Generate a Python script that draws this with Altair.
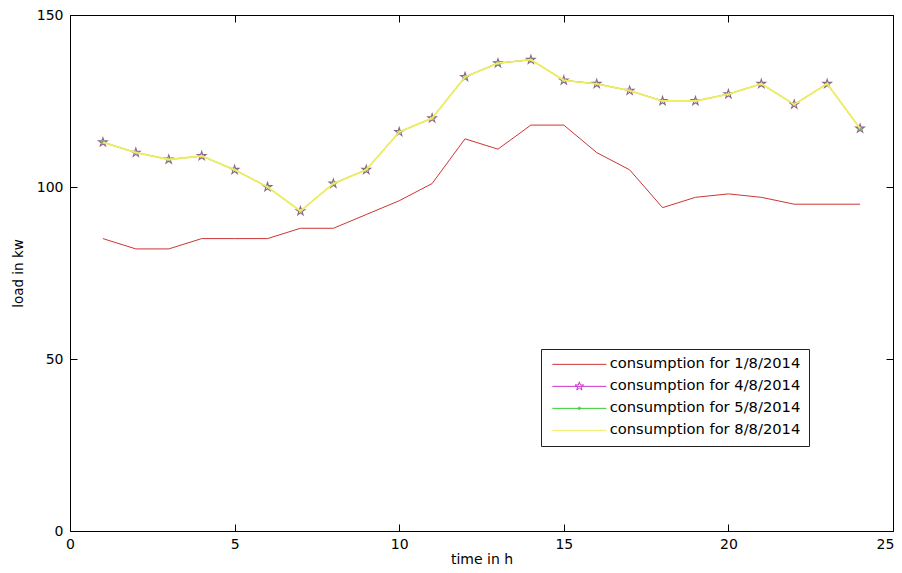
import altair as alt
import pandas as pd

# ---------------- data ----------------
hours = list(range(1, 25))
load_1_8 = [85, 82, 82, 85, 85, 85, 88, 88, 92, 96, 101, 114, 111, 118, 118, 110, 105, 94, 97, 98, 97, 95, 95, 95]
load_4_8 = [113, 110, 108, 109, 105, 100, 93, 101, 105, 116, 120, 132, 136, 137, 131, 130, 128, 125, 125, 127, 130, 124, 130, 117]
load_5_8 = [113, 110, 108, 109, 105, 100, 93, 101, 105, 116, 120, 132, 136, 137, 131, 130, 128, 125, 125, 127, 130, 124, 130, 117]
load_8_8 = [113, 110, 108, 109, 105, 100, 93, 101, 105, 116, 120, 132, 136, 137, 131, 130, 128, 125, 125, 127, 130, 124, 130, 117]

series_names = [
    "consumption for 1/8/2014",
    "consumption for 4/8/2014",
    "consumption for 5/8/2014",
    "consumption for 8/8/2014",
]
x_ticks = [0, 5, 10, 15, 20, 25]
y_ticks = [0, 50, 100, 150]

# ---------------- styles ----------------
FONT = "DejaVu Sans"
RED = "#cc3535"
MAGENTA = "#cc33cc"
GREEN = "#33cc33"
YELLOW = "#eeee60"
STAR_ON_PLOT = "#8e6488"
series_colors = [RED, MAGENTA, GREEN, YELLOW]

STAR = ("M0,-1L0.2245,-0.309L0.9511,-0.309L0.3633,0.118L0.5878,0.809L0,0.382"
        "L-0.5878,0.809L-0.3633,0.118L-0.9511,-0.309L-0.2245,-0.309Z")
LINE = "M-5.4,0H5.4"
LEG_STAR = LINE + ("M0,-0.9L0.202,-0.278L0.856,-0.278L0.327,0.106L0.529,0.728L0,0.344"
                   "L-0.529,0.728L-0.327,0.106L-0.856,-0.278L-0.202,-0.278Z")
LEG_DOT = LINE + "M0.25,0A0.25,0.25,0,1,1,-0.25,0A0.25,0.25,0,1,1,0.25,0Z"
legend_paths = [LINE, LEG_STAR, LEG_DOT, LINE]

W, H = 823, 516
TICK = 7

frames = []
for name, vals in zip(series_names, [load_1_8, load_4_8, load_5_8, load_8_8]):
    frames.append(pd.DataFrame({"hour": hours, "load": vals, "series": name}))
df = pd.concat(frames, ignore_index=True)

x_scale = alt.Scale(domain=[0, 25], nice=False, zero=False)
y_scale = alt.Scale(domain=[0, 150], nice=False)

x_axis_main = alt.Axis(
    values=x_ticks, orient="bottom", offset=-TICK, tickSize=TICK, domain=False, grid=False,
    labelPadding=6, labelFont=FONT, labelFontSize=14, labelColor="#000", labelFlush=False,
    labelOffset={"condition": {"test": "datum.value == 25", "value": -8}, "value": 0},
    tickColor="#000", tickWidth=1,
    title="time in h", titleFont=FONT, titleFontSize=14, titleFontWeight="normal", titleColor="#000",
    titleX=W / 2, titleY=32 + TICK, titleBaseline="alphabetic", titleAlign="center",
)
y_axis_main = alt.Axis(
    values=y_ticks, orient="left", offset=-TICK, tickSize=TICK, domain=False, grid=False,
    labelPadding=7, labelFont=FONT, labelFontSize=14, labelColor="#000",
    tickColor="#000", tickWidth=1,
    title="load in kw", titleFont=FONT, titleFontSize=13.5, titleFontWeight="normal", titleColor="#000",
    titleX=-52 - TICK, titleY=H / 2, titleAngle=270, titleBaseline="middle", titleAlign="center",
)
x_axis_top = alt.Axis(
    values=x_ticks, orient="top", offset=-TICK, tickSize=TICK, domain=False, grid=False,
    labels=False, tickColor="#000", tickWidth=1, title="",
)
y_axis_right = alt.Axis(
    values=y_ticks, orient="right", offset=-TICK, tickSize=TICK, domain=False, grid=False,
    labels=False, tickColor="#000", tickWidth=1, title="",
)


def series_chart(name):
    return alt.Chart(df).transform_filter(alt.datum.series == name)


def enc(x_axis=None, y_axis=None):
    return dict(
        x=alt.X("hour:Q", scale=x_scale, axis=x_axis),
        y=alt.Y("load:Q", scale=y_scale, axis=y_axis),
    )


red = series_chart(series_names[0]).mark_line(color=RED, strokeWidth=1).encode(
    **enc(x_axis_main, y_axis_main))
mag_line = series_chart(series_names[1]).mark_line(color=MAGENTA, strokeWidth=1).encode(**enc())
mag_star = series_chart(series_names[1]).mark_point(
    shape=STAR, size=81, filled=False, color=STAR_ON_PLOT, strokeWidth=1.1, opacity=1).encode(**enc())
green_line = series_chart(series_names[2]).mark_line(color=GREEN, strokeWidth=1).encode(**enc())
green_dot = series_chart(series_names[2]).mark_point(
    shape="circle", size=8, filled=True, color=GREEN, opacity=1).encode(**enc())
yellow = series_chart(series_names[3]).mark_line(color=YELLOW, strokeWidth=1.8).encode(
    **enc(x_axis_top, y_axis_right))

legend_def = dict(
    title=None, orient="none", legendX=471, legendY=334, direction="vertical",
    strokeColor="#222", fillColor="white", padding=8,
    labelFont=FONT, labelFontSize=14.7, labelColor="#000", labelLimit=400,
    symbolSize=100, symbolStrokeWidth=1, symbolOffset=23, labelOffset=23,
    rowPadding=6, symbolOpacity=1,
)
legend_df = pd.DataFrame({"series": series_names})
legend_layer = alt.Chart(legend_df).mark_point(filled=False, opacity=0, size=100, strokeWidth=1).encode(
    color=alt.Color("series:N", scale=alt.Scale(domain=series_names, range=series_colors),
                    legend=alt.Legend(**legend_def)),
    shape=alt.Shape("series:N", scale=alt.Scale(domain=series_names, range=legend_paths),
                    legend=alt.Legend(**legend_def)),
)

chart = alt.layer(
    red, mag_line, mag_star, green_line, green_dot, yellow, legend_layer
).resolve_axis(
    x="independent", y="independent"
).properties(
    width=W, height=H,
    autosize=alt.AutoSizeParams(type="none"),
    padding={"left": 62, "top": 7, "right": 1, "bottom": 34},
    background="white",
).configure_view(
    stroke="#000", strokeWidth=1
)

chart.save("out.html", embed_options={"renderer": "svg", "actions": False})
